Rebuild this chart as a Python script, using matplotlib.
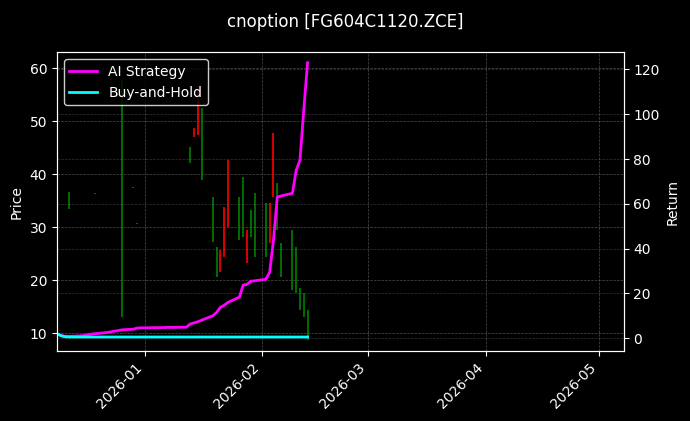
import numpy as np
import pandas as pd
import matplotlib
matplotlib.use('Agg')
import matplotlib.pyplot as plt
import matplotlib.dates as mdates

plt.style.use('dark_background')

# candles: date, high, low, up/down
c_dates = ['2025-12-12', '2025-12-19', '2025-12-26', '2025-12-29', '2025-12-30',
           '2026-01-13', '2026-01-14', '2026-01-15', '2026-01-16', '2026-01-19',
           '2026-01-20', '2026-01-21', '2026-01-22', '2026-01-23', '2026-01-26',
           '2026-01-27', '2026-01-28', '2026-01-29', '2026-01-30', '2026-02-02',
           '2026-02-03', '2026-02-04', '2026-02-05', '2026-02-06', '2026-02-09',
           '2026-02-10', '2026-02-11', '2026-02-12', '2026-02-13']
c_high = [36.6, 36.5, 57.7, 37.6, 30.7, 45.1, 48.7, 55.8, 52.5, 35.7,
          26.2, 25.7, 33.8, 42.6, 35.7, 39.4, 29.4, 33.2, 36.4, 34.5,
          34.5, 47.7, 38.3, 27.0, 29.4, 26.2, 18.5, 17.5, 14.3]
c_low = [33.4, 36.3, 13.0, 37.4, 30.5, 42.1, 47.0, 47.4, 38.9, 27.2,
         20.6, 21.5, 24.3, 30.0, 27.5, 28.1, 23.2, 28.1, 24.3, 24.3,
         27.0, 35.7, 29.4, 20.6, 18.1, 17.5, 14.3, 13.0, 8.7]
c_up = [False, True, False, True, True, False, True, True, False, False,
        False, True, True, True, False, False, True, False, False, False,
        True, True, False, False, False, False, False, False, False]

l_dates = ['2025-12-09', '2025-12-10', '2025-12-11', '2025-12-12', '2025-12-15',
           '2025-12-16', '2025-12-17', '2025-12-18', '2025-12-19', '2025-12-22',
           '2025-12-23', '2025-12-24', '2025-12-25', '2025-12-26', '2025-12-29',
           '2025-12-30', '2025-12-31', '2026-01-05', '2026-01-06', '2026-01-07',
           '2026-01-08', '2026-01-09', '2026-01-12', '2026-01-13', '2026-01-14',
           '2026-01-15', '2026-01-16', '2026-01-19', '2026-01-20', '2026-01-21',
           '2026-01-22', '2026-01-23', '2026-01-26', '2026-01-27', '2026-01-28',
           '2026-01-29', '2026-01-30', '2026-02-02', '2026-02-03', '2026-02-04',
           '2026-02-05', '2026-02-06', '2026-02-09', '2026-02-10', '2026-02-11',
           '2026-02-12', '2026-02-13']
strategy = [1.8, 1.2, 0.8, 0.8, 1.0, 1.2, 1.5, 1.8, 2.0, 2.5,
            2.8, 3.1, 3.4, 3.7, 4.0, 4.5, 4.6, 4.7, 4.7, 4.8,
            4.8, 4.8, 4.9, 6.3, 6.8, 7.3, 8.0, 10.0, 11.5, 13.8,
            14.7, 16.0, 18.3, 23.7, 24.0, 25.4, 25.6, 26.3, 29.5, 43.7,
            63.0, 63.5, 64.7, 75.0, 79.5, 102.0, 123.0]
buyhold = [1.8, 1.0, 0.6] + [0.5] * 44

cd = pd.to_datetime(c_dates)
ld = pd.to_datetime(l_dates)

fig = plt.figure(figsize=(6.9, 4.21), dpi=100)
ax = fig.add_axes([0.0826, 0.166, 0.8214, 0.71])
for d, hi, lo, up in zip(cd, c_high, c_low, c_up):
    col = 'red' if up else 'green'
    ax.vlines(d, lo, hi, color=col, linewidth=1.2)
ax.set_ylim(6.6, 63)
ax.set_ylabel('Price')
ax.grid(True, linestyle='--', linewidth=0.5, color='gray', alpha=0.6)

ax2 = ax.twinx()
ax2.plot(ld, strategy, color='magenta', linewidth=2, label='AI Strategy')
ax2.plot(ld, buyhold, color='cyan', linewidth=2, label='Buy-and-Hold')
ax2.set_ylim(-5.8, 127.7)
ax2.set_ylabel('Return')
ax2.grid(True, linestyle='--', linewidth=0.5, color='gray', alpha=0.4)
ax2.legend(loc='upper left', facecolor='black', edgecolor='white')

ax.set_xlim(pd.Timestamp('2025-12-08 20:00'), pd.Timestamp('2026-05-07 12:00'))
ax.xaxis.set_major_locator(mdates.MonthLocator())
ax.xaxis.set_major_formatter(mdates.DateFormatter('%Y-%m'))
plt.setp(ax.get_xticklabels(), rotation=45, ha='right')

fig.suptitle('cnoption [FG604C1120.ZCE]', y=0.97)
fig.savefig('out.png', facecolor='black')
